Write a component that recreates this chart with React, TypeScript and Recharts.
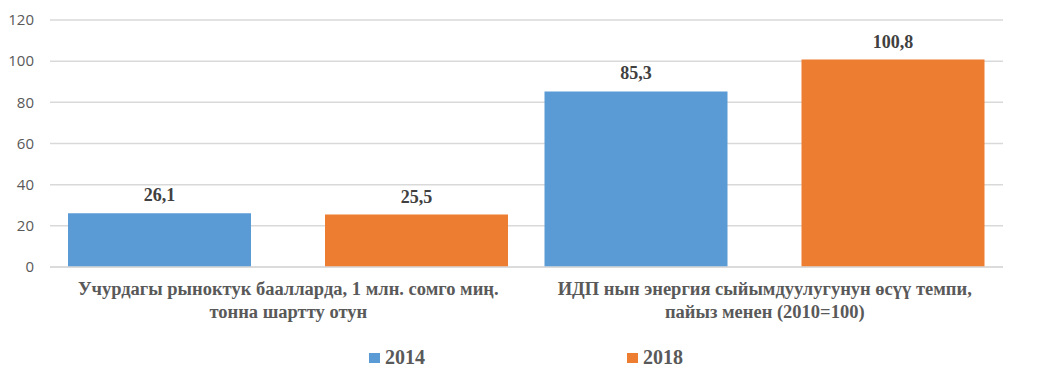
import { BarChart, Bar, XAxis, YAxis, CartesianGrid, Legend, LabelList } from "recharts";

const categories = [
  "Учурдагы рыноктук баалларда, 1 млн. сомго миң.\nтонна шартту отун",
  "ИДП нын энергия сыйымдуулугунун өсүү темпи,\nпайыз менен (2010=100)",
];
const values2014 = [26.1, 85.3];
const values2018 = [25.5, 100.8];
const yTicks = [0, 20, 40, 60, 80, 100, 120];

const data = categories.map((name, i) => ({
  name,
  y2014: values2014[i],
  y2018: values2018[i],
}));

const SERIF = "'Liberation Serif', 'Times New Roman', serif";
const SANS = "'Open Sans', 'Noto Sans', sans-serif";

const CategoryTick = ({ x, y, payload }: any) => {
  const lines = String(payload.value).split("\n");
  return (
    <g transform={`translate(${x},${y})`}>
      {lines.map((line, i) => (
        <text
          key={i}
          x={0}
          y={20 + i * 23}
          textAnchor="middle"
          fill="#595959"
          fontFamily={SERIF}
          fontWeight="bold"
          fontSize={18.5}
        >
          {line}
        </text>
      ))}
    </g>
  );
};

const formatValue = (v: number) => v.toFixed(1).replace(".", ",");

const LegendContent = () => (
  <div style={{ position: "relative", height: 30 }}>
    {[
      { label: "2014", color: "#5B9BD5", left: 369 },
      { label: "2018", color: "#ED7D31", left: 627 },
    ].map((item) => (
      <div
        key={item.label}
        style={{
          position: "absolute",
          left: item.left,
          top: 4,
          display: "flex",
          alignItems: "center",
          fontFamily: SERIF,
          fontWeight: "bold",
          fontSize: 20,
          color: "#595959",
        }}
      >
        <span style={{ width: 11, height: 10, background: item.color, marginRight: 5 }} />
        {item.label}
      </div>
    ))}
  </div>
);

export default function App() {
  return (
    <div style={{ position: "absolute", left: 0, top: 0, background: "#fff" }}>
      <BarChart
        width={1040}
        height={380}
        data={data}
        margin={{ top: 20, right: 37, left: 0, bottom: 8 }}
        barCategoryGap={18}
        barGap={74}
      >
        <CartesianGrid vertical={false} stroke="#D9D9D9" strokeWidth={1.5} />
        <XAxis
          dataKey="name"
          axisLine={{ stroke: "#D9D9D9", strokeWidth: 1.5 }}
          tickLine={false}
          tick={<CategoryTick />}
          interval={0}
          height={75}
        />
        <YAxis
          width={50}
          domain={[0, 120]}
          ticks={yTicks}
          axisLine={false}
          tickLine={false}
          tickMargin={10}
          tick={{ fill: "#595959", fontSize: 15, fontFamily: SANS }}
        />
        <Legend verticalAlign="bottom" content={<LegendContent />} wrapperStyle={{ left: 0, width: 1040, bottom: 8 }} />
        <Bar dataKey="y2014" name="2014" fill="#5B9BD5" isAnimationActive={false}>
          <LabelList
            dataKey="y2014"
            position="top"
            offset={12}
            formatter={formatValue}
            fill="#404040"
            fontFamily={SERIF}
            fontWeight="bold"
            fontSize={18}
          />
        </Bar>
        <Bar dataKey="y2018" name="2018" fill="#ED7D31" isAnimationActive={false}>
          <LabelList
            dataKey="y2018"
            position="top"
            offset={12}
            formatter={formatValue}
            fill="#404040"
            fontFamily={SERIF}
            fontWeight="bold"
            fontSize={18}
          />
        </Bar>
      </BarChart>
    </div>
  );
}
